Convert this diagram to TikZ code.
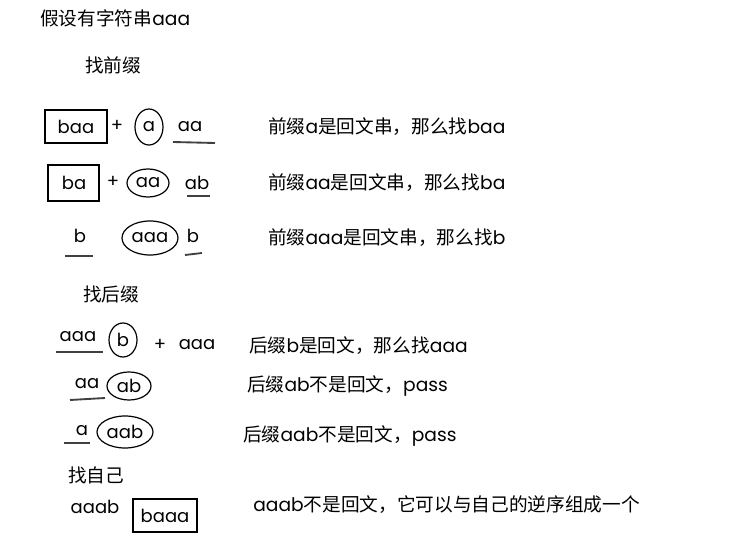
\documentclass[tikz,border=0pt]{standalone}
\usepackage{fontspec}
\setmainfont{Noto Sans CJK SC}
\newfontfamily\hand{Poppins}
\begin{document}
\begin{tikzpicture}[x=0.75pt,y=-0.75pt,
  cn/.style={anchor=west,font=\fontsize{14}{16}\selectfont,inner sep=0pt},
  hw/.style={font=\hand\fontsize{13.5}{15}\selectfont,inner sep=0pt},
  sk/.style={line width=0.9pt,black},
  ul/.style={line width=1.4pt,black!75}]
\useasboundingbox (0,0) rectangle (735,556);
\node[cn] (t0) at (40,18) {假设有字符串{\hand aaa}};
\node[cn] (h1) at (85,65) {找前缀};
% row1
\draw[sk] (45,110) rectangle (107,143);
\node[hw] (r1a) at (76,127) {baa};
\node[hw] (r1p) at (117,126) {+};
\draw[sk] (149,127) ellipse (14 and 18);
\node[hw] (r1b) at (149,127) {a};
\node[hw] (r1c) at (190,127) {aa};
\draw[ul] (173,142) -- (215,143);
\node[cn] (r1t) at (268,127) {前缀{\hand a}是回文串，那么找{\hand baa}};
% row2
\draw[sk] (48,165) rectangle (99,201);
\node[hw] (r2a) at (74,183) {ba};
\node[hw] (r2p) at (113,182) {+};
\draw[sk] (148,183) ellipse (21 and 14);
\node[hw] (r2b) at (148,183) {aa};
\node[hw] (r2c) at (197,183) {ab};
\draw[ul] (187,196) -- (210,196);
\node[cn] (r2t) at (268,183) {前缀{\hand aa}是回文串，那么找{\hand ba}};
% row3
\node[hw] (r3a) at (80,236) {b};
\draw[ul] (65,256) -- (93,256);
\draw[sk] (150,238) ellipse (28 and 17);
\node[hw] (r3b) at (150,238) {aaa};
\node[hw] (r3c) at (193,236) {b};
\draw[ul] (185,255) -- (202,253);
\node[cn] (r3t) at (268,238) {前缀{\hand aaa}是回文串，那么找{\hand b}};
\node[cn] (h2) at (83,294) {找后缀};
% row4
\node[hw] (r4a) at (78,337) {aaa};
\draw[ul] (56,352) -- (103,352);
\draw[sk] (123,340) ellipse (14 and 17);
\node[hw] (r4b) at (123,340) {b};
\node[hw] (r4p) at (160,345) {+};
\node[hw] (r4c) at (197,345) {aaa};
\node[cn] (r4t) at (249,346) {后缀{\hand b}是回文，那么找{\hand aaa}};
% row5
\node[hw] (r5a) at (87,384) {aa};
\draw[ul] (70,400) -- (105,398);
\draw[sk] (129,386) ellipse (22 and 14);
\node[hw] (r5b) at (129,386) {ab};
\node[cn] (r5t) at (247,386) {后缀{\hand ab}不是回文，{\hand pass}};
% row6
\node[hw] (r6a) at (82,431) {a};
\draw[ul] (64,443) -- (90,443);
\draw[sk] (125,432) ellipse (28 and 16);
\node[hw] (r6b) at (125,432) {aab};
\node[cn] (r6t) at (243,436) {后缀{\hand aab}不是回文，{\hand pass}};
\node[cn] (h3) at (68,475) {找自己};
% row7
\node[hw] (r7a) at (95,507) {aaab};
\draw[sk] (133,499) rectangle (197,532);
\node[hw] (r7b) at (165,516) {baaa};
\node[cn] (r7t) at (253,505) {{\hand aaab}不是回文，它可以与自己的逆序组成一个};
\end{tikzpicture}
\end{document}
